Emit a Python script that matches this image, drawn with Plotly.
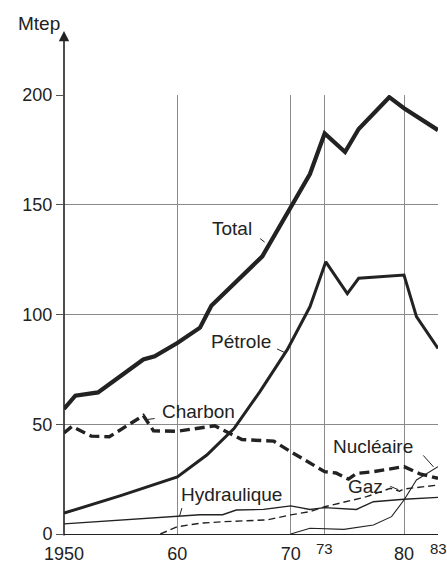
import plotly.graph_objects as go

# ---- data (Mtep) ----
total_years = [1950, 1951, 1953, 1957, 1958, 1960, 1962, 1963, 1967.5, 1970, 1971.7, 1973, 1974.8, 1976, 1978.7, 1980, 1983]
total_vals  = [57, 63, 64.5, 79.5, 81, 87, 94, 104, 126.5, 149, 164, 182.5, 174, 184.5, 199, 194, 184]

petrole_years = [1950, 1955, 1960, 1962.6, 1965, 1967.3, 1969.7, 1971.7, 1973.1, 1975, 1976, 1980, 1981.1, 1983]
petrole_vals  = [9.5, 17.5, 26, 36, 48, 65, 84, 103.5, 124, 109.5, 116.5, 118, 99, 84.5]

charbon_years = [1950, 1950.7, 1952.4, 1954, 1957, 1957.9, 1960, 1963.3, 1965.7, 1968.5, 1970, 1973, 1974, 1975.1, 1975.8, 1977.3, 1980, 1981.4, 1983]
charbon_vals  = [46, 49, 44.6, 44.3, 54, 47, 46.8, 49.3, 43, 42.3, 37.5, 28.4, 27.8, 25, 27.6, 28.4, 30.7, 27.4, 25.4]

hydro_years = [1950, 1960, 1962, 1964, 1965.2, 1967.6, 1970, 1971.7, 1973, 1975.8, 1977.3, 1980, 1983]
hydro_vals  = [4.6, 7.9, 8.8, 8.8, 10.9, 11.2, 12.8, 11.2, 12.0, 11.2, 14.7, 15.8, 16.7]

gaz_years = [1958.5, 1960, 1962, 1964, 1967.9, 1970, 1971.7, 1973, 1976.7, 1978.8, 1979.6, 1980, 1983]
gaz_vals  = [0, 3.3, 4.9, 5.6, 6.4, 8.7, 10.2, 12.4, 17, 20.8, 19.5, 20.5, 22.3]

nucl_years = [1970, 1971.7, 1974.7, 1977.3, 1978.9, 1980, 1981.1, 1983]
nucl_vals  = [0, 2.6, 2.1, 4.1, 7.9, 15.5, 24.6, 30.7]

x_tickvals = [1950, 1960, 1970, 1973, 1980, 1983]
x_ticktext = ["1950", "60", "70", "", "80", ""]
x_small_ticks = [1973, 1983]
x_small_text = ["73", "83"]
y_tickvals = [0, 50, 100, 150, 200]
y_ticktext = ["0", "50", "100", "150", "200"]

INK = "#222222"
FONT = "Liberation Sans, Arial, sans-serif"

series = [
    ("Total", total_years, total_vals, 4.2, "solid"),
    ("Pétrole", petrole_years, petrole_vals, 3.0, "solid"),
    ("Charbon", charbon_years, charbon_vals, 3.4, "10px,5px"),
    ("Hydraulique", hydro_years, hydro_vals, 1.4, "solid"),
    ("Gaz", gaz_years, gaz_vals, 1.4, "7px,4px"),
    ("Nucléaire", nucl_years, nucl_vals, 1.1, "solid"),
]

fig = go.Figure()
for name, xs, ys, w, dash in series:
    fig.add_trace(go.Scatter(x=xs, y=ys, mode="lines", name=name,
                             line=dict(color=INK, width=w, dash=dash),
                             cliponaxis=False, showlegend=False, hoverinfo="skip"))

# series labels (position, in data units) and leader lines
labels = [
    ("Total", 1964.8, 139.0, [(1967.3, 134.6), (1967.7, 133.0)]),
    ("Pétrole", 1965.6, 87.5, [(1968.8, 84.3), (1969.5, 82.6)]),
    ("Charbon", 1961.9, 55.7, [(1957.4, 52.2), (1958.0, 52.6)]),
    ("Hydraulique", 1964.8, 17.8, [(1960.4, 11.8), (1960.2, 8.2)]),
    ("Nucléaire", 1977.3, 39.8, [(1981.7, 35.8), (1982.6, 30.6)]),
    ("Gaz", 1976.6, 21.5, [(1978.8, 21.7), (1979.5, 20.2)]),
]
annotations = []
shapes = []
for text, lx, ly, leader in labels:
    annotations.append(dict(x=lx, y=ly, xref="x", yref="y", text=text,
                            xanchor="center", yanchor="middle",
                            showarrow=False, font=dict(family=FONT, size=19, color=INK)))
    (x0, y0), (x1, y1) = leader
    shapes.append(dict(type="line", xref="x", yref="y", x0=x0, y0=y0, x1=x1, y1=y1,
                       line=dict(color=INK, width=1)))

# small raised tick labels
for v, t in zip(x_small_ticks, x_small_text):
    annotations.append(dict(x=v, y=-0.032, xref="x", yref="paper", text=t, showarrow=False,
                            xanchor="center", yanchor="middle",
                            font=dict(family=FONT, size=15, color=INK)))

# y axis with arrow
annotations.append(dict(x=0, y=1.146, xref="paper", yref="paper", ax=0, ay=506,
                        text="", showarrow=True,
                        arrowhead=2, arrowsize=1.3, arrowwidth=1.6, arrowcolor=INK,
                        standoff=0, startstandoff=0))
annotations.append(dict(x=-0.067, y=1.164, xref="paper", yref="paper", text="Mtep",
                        xanchor="center", yanchor="middle",
                        showarrow=False, font=dict(family=FONT, size=19, color=INK)))

fig.update_layout(
    width=447, height=563,
    margin=dict(l=64, r=9, t=95, b=29, autoexpand=False),
    paper_bgcolor="white", plot_bgcolor="white",
    annotations=annotations, shapes=shapes,
    font=dict(family=FONT, color=INK),
)
fig.update_xaxes(range=[1950, 1983], tickvals=x_tickvals, ticktext=x_ticktext,
                 automargin=False,
                 showgrid=True, gridcolor="#8a8a8a", gridwidth=1,
                 zeroline=False, showline=True, linecolor=INK, linewidth=1.2,
                 ticks="", tickfont=dict(family=FONT, size=18, color=INK),
                 ticklabelstandoff=3)
fig.update_yaxes(range=[0, 200], tickvals=y_tickvals, ticktext=y_ticktext,
                 automargin=False,
                 showgrid=True, gridcolor="#8a8a8a", gridwidth=1,
                 zeroline=False, showline=False,
                 ticks="outside", ticklen=7, tickcolor="#555555", tickwidth=1,
                 tickfont=dict(family=FONT, size=18, color=INK))

# remove the browser's default 8px body margin so the 447x563 figure fills the window
fig.write_html("out.html", config={"displayModeBar": False},
               post_script="document.body.style.margin='0';document.body.style.overflow='hidden';")
